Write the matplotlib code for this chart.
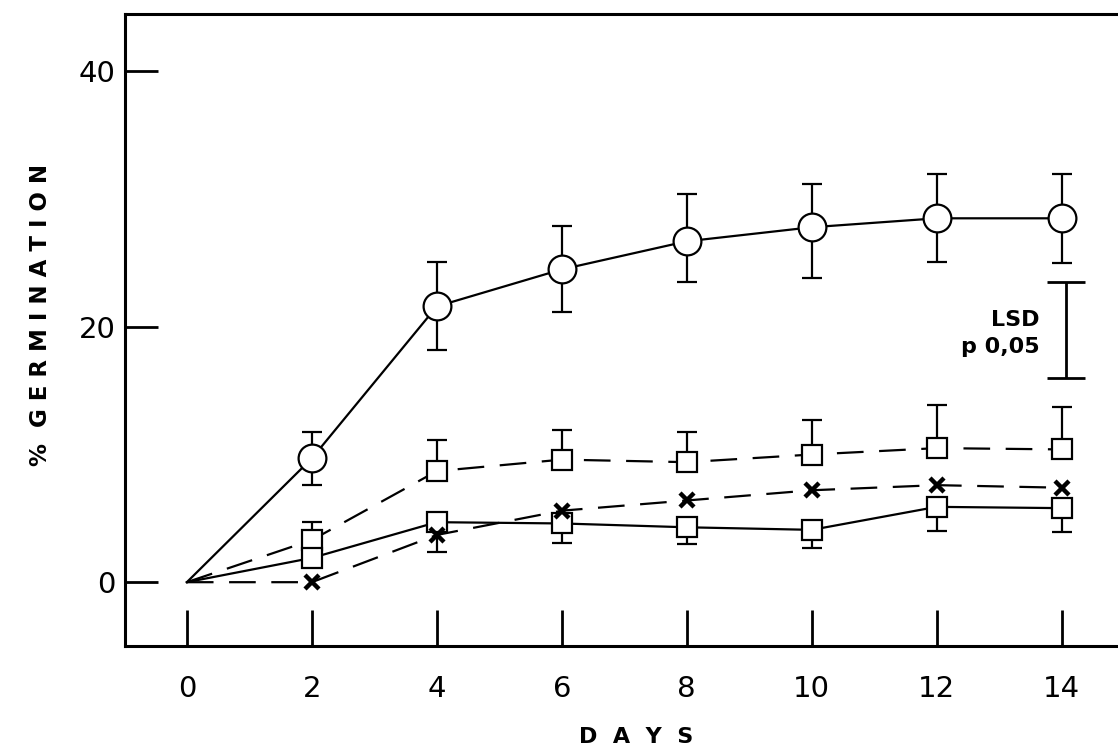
import numpy as np
import matplotlib
matplotlib.use("Agg")
import matplotlib.pyplot as plt

days = [0, 2, 4, 6, 8, 10, 12, 14]

# open circles, solid line
circ = [0, 9.7, 21.6, 24.5, 26.7, 27.8, 28.5, 28.5]
circ_lo = [0, 2.1, 3.4, 3.3, 3.2, 4.0, 3.4, 3.5]
circ_hi = [0, 2.1, 3.5, 3.4, 3.7, 3.4, 3.5, 3.5]

# open squares, dashed line
sq_d = [0, 3.3, 8.7, 9.6, 9.4, 10.0, 10.5, 10.4]
sq_d_hi = [0, 1.4, 2.4, 2.3, 2.4, 2.7, 3.4, 3.3]

# open squares, solid line
sq_s = [0, 1.9, 4.7, 4.6, 4.3, 4.1, 5.9, 5.8]
sq_s_lo = [0, 0, 0, 1.5, 1.3, 1.4, 1.9, 1.9]

# crosses, dashed line
crs = [0, 0, 3.7, 5.6, 6.4, 7.2, 7.6, 7.4]
crs_lo = [0, 0, 1.3, 0, 0, 0, 0, 0]

lsd = (16.0, 23.5)

plt.rcParams['font.family'] = ['DejaVu Sans']

fig = plt.figure(figsize=(11.18, 7.54), dpi=100)
ax = fig.add_axes([0.1118, 0.1432, 0.8882, 0.8382])

lw = 1.6
cap = 14


def bars(y, lo=None, hi=None):
    # one-sided error bars: stem plus a single cap, only where error > 0
    x = np.array(days, dtype=float)
    y = np.array(y, dtype=float)
    for err, sign in ((lo, -1), (hi, 1)):
        if err is None:
            continue
        err = np.array(err, dtype=float)
        m = err > 0
        end = y[m] + sign * err[m]
        ax.vlines(x[m], y[m], end, color='black', lw=lw, zorder=1)
        ax.plot(x[m], end, ls='none', marker='_', ms=cap, mew=lw,
                color='black', zorder=1)


def series(y, marker, ms, ls, mew=lw, mfc='white'):
    ax.plot(days, y, color='black', lw=lw, ls=ls, marker=marker, ms=ms,
            mfc=mfc, mec='black', mew=mew, markevery=range(1, 8), zorder=2)


bars(circ, circ_lo, circ_hi)
bars(sq_d, hi=sq_d_hi)
bars(sq_s, lo=sq_s_lo)
bars(crs, lo=crs_lo)

series(circ, 'o', 20, '-')
series(sq_d, 's', 15, (0, (12, 7)))
series(sq_s, 's', 15, '-')
series(crs, 'x', 10, (0, (12, 7)), mew=3.2, mfc='black')

# LSD bar
ax.errorbar([14.07], [(lsd[0] + lsd[1]) / 2], yerr=[(lsd[1] - lsd[0]) / 2],
            fmt='none', ecolor='black', elinewidth=2, capsize=cap, capthick=2)
ax.text(13.65, 19.5, "LSD\np 0,05", ha='right', va='center',
        fontsize=16, fontweight='bold', linespacing=1.45)

ax.set_xlim(-0.99, 14.9)
ax.set_ylim(-5.0, 44.5)
ax.set_xticks(days)
ax.set_xticklabels([str(d) for d in days])
ax.set_yticks([0, 20, 40])
ax.set_yticklabels(["0", "20", "40"])

ax.tick_params(axis='both', direction='in', width=2, labelsize=21)
ax.tick_params(axis='y', length=24, pad=7)
ax.tick_params(axis='x', length=26, pad=21)

for s in ['left', 'bottom', 'top']:
    ax.spines[s].set_linewidth(2.2)
ax.spines['right'].set_visible(False)

fig.text(0.569, 0.022, "D  A  Y  S", ha='center', va='center',
         fontsize=16, fontweight='bold')
fig.text(0.036, 0.582, "%  G E R M I N A T I O N", ha='center', va='center',
         rotation=90, fontsize=16.5, fontweight='bold')

fig.savefig("out.png", dpi=100)
